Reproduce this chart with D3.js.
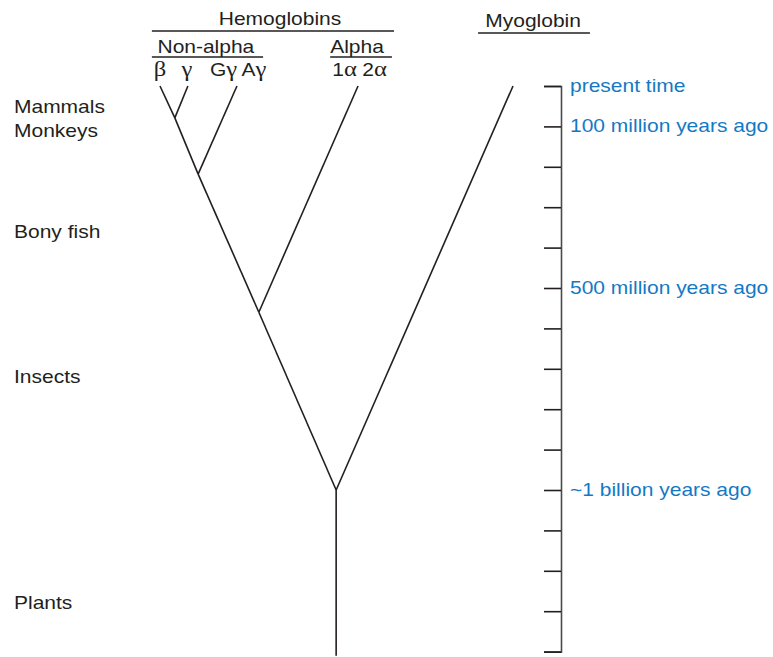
<!DOCTYPE html>
<html>
<head>
<meta charset="utf-8">
<script src="https://cdn.jsdelivr.net/npm/d3@7"></script>
<style>
  html, body { margin: 0; padding: 0; background: #fff; }
  svg { display: block; }
</style>
</head>
<body>
<script>
// ---------------- data ----------------
// time axis (millions of years ago)
const tickValues = [0, 100, 200, 300, 400, 500, 600, 700, 800, 900, 1000, 1100, 1200, 1300, 1400];
const tickLabels = [
  { t: 0, label: "present time" },
  { t: 100, label: "100 million years ago" },
  { t: 500, label: "500 million years ago" },
  { t: 1000, label: "~1 billion years ago" }
];
// organisms on the left, with approximate time (My ago)
const organisms = [
  { name: "Mammals", t: 67 },
  { name: "Monkeys", t: 126 },
  { name: "Bony fish", t: 376 },
  { name: "Insects", t: 735 },
  { name: "Plants", t: 1295 }
];
// tree nodes: t = My ago, lane = horizontal position (0 = beta, 1 = myoglobin)
const nodes = [
  { id: "base",  t: 1410, lane: 0.499 },
  { id: "root",  t: 1000, lane: 0.499 },
  { id: "alphaSplit", t: 560, lane: 0.280 },
  { id: "gSplit", t: 218, lane: 0.108 },
  { id: "bgSplit", t: 79, lane: 0.042 },
  { id: "beta",  t: 0, lane: 0.000 },
  { id: "gamma", t: 0, lane: 0.079 },
  { id: "GAgamma", t: 0, lane: 0.218 },
  { id: "alpha", t: 0, lane: 0.561 },
  { id: "myo",   t: 0, lane: 1.000 }
];
const edges = [
  ["base", "root"], ["root", "alphaSplit"], ["root", "myo"],
  ["alphaSplit", "gSplit"], ["alphaSplit", "alpha"],
  ["gSplit", "bgSplit"], ["gSplit", "GAgamma"],
  ["bgSplit", "beta"], ["bgSplit", "gamma"]
];
// header groups
const groups = [
  { name: "Hemoglobins", x0: -0.023, x1: 0.663, tx: 0.340, level: 0 },
  { name: "Non-alpha", x0: -0.023, x1: 0.292, tx: 0.130, level: 1 },
  { name: "Alpha", x0: 0.482, x1: 0.657, tx: 0.558, level: 1 },
  { name: "Myoglobin", x0: 0.901, x1: 1.218, tx: 1.057, level: 0.1 }
];
// gene labels: parts [text, greek?]
const genes = [
  { parts: [["β", true]], lane: 0.0 },
  { parts: [["γ", true]], lane: 0.076 },
  { parts: [["G", false], ["γ", true]], lane: 0.18 },
  { parts: [["A", false], ["γ", true]], lane: 0.266 },
  { parts: [["1", false], ["α", true]], lane: 0.523 },
  { parts: [["2", false], ["α", true]], lane: 0.608 }
];

// ---------------- drawing ----------------
const W = 773, H = 657;
const svg = d3.select("body").append("svg").attr("width", W).attr("height", H);

const y = d3.scaleLinear().domain([0, 1400]).range([86, 651.6]);
const x = d3.scaleLinear().domain([0, 1]).range([160, 513]);

const ink = "#231f20";
const blue = "#1479c4";
const FS = 17.5, SX = 1.2;
const sans = "'Liberation Sans', Arial, Helvetica, sans-serif";
const serif = "'Liberation Serif', 'Times New Roman', serif";

function stretchedText(g, cx, by, anchor) {
  return g.append("text")
    .attr("transform", `translate(${cx},${by}) scale(${SX},1)`)
    .attr("text-anchor", anchor)
    .attr("font-family", sans)
    .attr("font-size", FS)
    .attr("fill", ink);
}

// tree
const byId = new Map(nodes.map(d => [d.id, d]));
svg.append("g").selectAll("line").data(edges).join("line")
  .attr("x1", d => x(byId.get(d[0]).lane))
  .attr("y1", d => y(byId.get(d[0]).t))
  .attr("x2", d => x(byId.get(d[1]).lane))
  .attr("y2", d => y(byId.get(d[1]).t))
  .attr("stroke", ink)
  .attr("stroke-width", 1.6)
  .attr("stroke-linecap", "butt");

// axis
const axisG = svg.append("g").attr("transform", "translate(561,0)")
  .call(d3.axisLeft(y).tickValues(tickValues).tickSize(17).tickSizeOuter(17).tickFormat(""));
axisG.select(".domain").attr("stroke", "#4a4a4a").attr("stroke-width", 1.6);
axisG.selectAll(".tick line").attr("stroke", ink).attr("stroke-width", 1.6);

// axis labels
const lblG = svg.append("g");
tickLabels.forEach(d => {
  stretchedText(lblG, 570, y(d.t) + 6, "start").attr("fill", blue).text(d.label);
});

// organisms
const orgG = svg.append("g");
organisms.forEach(d => {
  stretchedText(orgG, 14, y(d.t), "start").text(d.name);
});

// header groups
const hdr = svg.append("g");
const levelY = l => (l === 1 ? 53 : (l === 0 ? 25 : 27));
const lineY = l => (l === 1 ? 57 : (l === 0 ? 31 : 33));
groups.forEach(d => {
  stretchedText(hdr, x(d.tx), levelY(d.level), "middle").text(d.name);
  hdr.append("line")
    .attr("x1", x(d.x0)).attr("x2", x(d.x1))
    .attr("y1", lineY(d.level)).attr("y2", lineY(d.level))
    .attr("stroke", ink).attr("stroke-width", 1.6);
});

// gene labels
genes.forEach(d => {
  const t = stretchedText(hdr, x(d.lane), 76, "middle");
  d.parts.forEach(p => {
    t.append("tspan")
      .attr("font-family", p[1] ? serif : sans)
      .attr("font-size", p[1] ? FS + 3 : FS)
      .text(p[0]);
  });
});
</script>
</body>
</html>
